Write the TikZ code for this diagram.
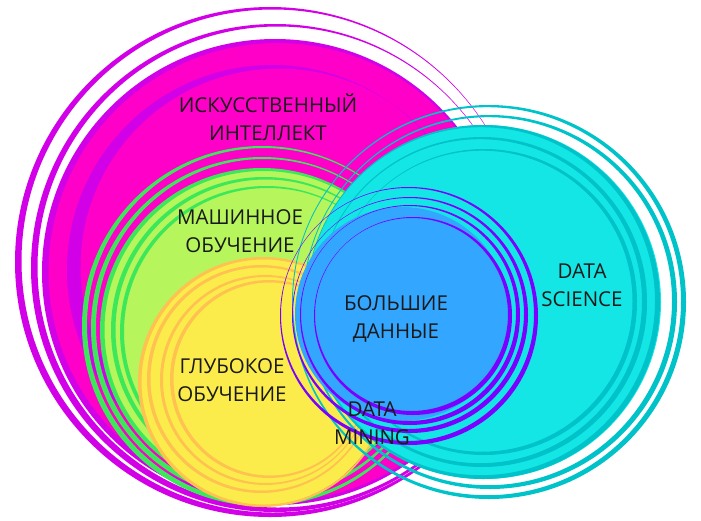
\documentclass[tikz,border=0pt]{standalone}
\usepackage{fontspec}
\setmainfont{Open Sans}
\usepackage{xcolor}
\definecolor{aifill}{HTML}{FF00C8}
\definecolor{airing}{HTML}{D200E6}
\definecolor{mlfill}{HTML}{B6F55C}
\definecolor{mlring}{HTML}{3CE85A}
\definecolor{dlfill}{HTML}{FBEC4C}
\definecolor{dlring}{HTML}{FFC250}
\definecolor{dsfill}{HTML}{14E6E6}
\definecolor{dsring}{HTML}{00C3C9}
\definecolor{bdfill}{HTML}{33A6FF}
\definecolor{bdring}{HTML}{7A00FF}
\tikzset{lbl/.style={align=center,inner sep=0pt,text=black!90,font=\fontsize{20.5}{28.5}\selectfont}}

\begin{document}
\begin{tikzpicture}[x=1pt,y=-1pt]
\useasboundingbox (0,0) rectangle (701,520);
% artificial intelligence
\fill[aifill] (275,272) circle (232pt);
\foreach \cx/\cy/\r/\t/\dx/\dy in {270/262/255/3.5/3/-1, 275/268/244/3.5/3/-1, 275/272/233/4/2.5/0, 272/270/205/6.5/7/-3}
  \fill[airing,even odd rule] (\cx,\cy) circle (\r pt) ++(\dx,\dy) circle (\r pt-\t pt);
% machine learning
\fill[mlfill] (262,330) circle (160pt);
\foreach \cx/\cy/\r/\t/\dx/\dy in {262/326/180/3/2/-1, 262/328/171/3/2/-1, 262/330/162/3/1.5/0, 264/330/153/2.5/2/0, 266/332/146/2/2/0}
  \fill[mlring,even odd rule] (\cx,\cy) circle (\r pt) ++(\dx,\dy) circle (\r pt-\t pt);
% deep learning
\fill[dlfill] (263,382) circle (123pt);
\foreach \cx/\cy/\r/\t/\dx/\dy in {263/382/125/2.5/1/0, 261/379/114/2.5/1/0, 265/380/105/2/1/0, 269/379/99/2.5/1/0}
  \fill[dlring,even odd rule] (\cx,\cy) circle (\r pt) ++(\dx,\dy) circle (\r pt-\t pt);
% data science
\fill[dsfill] (484,302) circle (177pt);
\foreach \cx/\cy/\r/\t/\dx/\dy in {489/302/197/3/-2/-0.8, 490/302/187/3/-2/-0.8, 483/302/177/3/-2/-0.8, 482/302/165/3/-2/-0.8, 484/302/153/2.5/-2/-0.8}
  \fill[dsring,even odd rule] (\cx,\cy) circle (\r pt) ++(\dx,\dy) circle (\r pt-\t pt);
% big data
\fill[bdfill] (402,314) circle (107pt);
\foreach \cx/\cy/\r/\t/\dx/\dy in {409/316/129/2.5/-1.5/-1.5, 410/315/118/2.5/-1.5/-1.5, 410/315/110/2.5/-1.5/-1.5, 413/316/99/2.5/-1.5/-1.5}
  \fill[bdring,even odd rule] (\cx,\cy) circle (\r pt) ++(\dx,\dy) circle (\r pt-\t pt);
% labels
\node[lbl] (ai) at (268,117) {ИСКУССТВЕННЫЙ\\ИНТЕЛЛЕКТ};
\node[lbl] (ml) at (240,231) {МАШИННОЕ\\ОБУЧЕНИЕ};
\node[lbl] (dl) at (232,380) {ГЛУБОКОЕ\\ОБУЧЕНИЕ};
\node[lbl] (bd) at (396,319) {БОЛЬШИЕ\\ДАННЫЕ};
\node[lbl] (ds) at (582,285) {DATA\\SCIENCE};
\node[lbl] (dm) at (372,423) {DATA\\MINING};
\end{tikzpicture}
\end{document}
